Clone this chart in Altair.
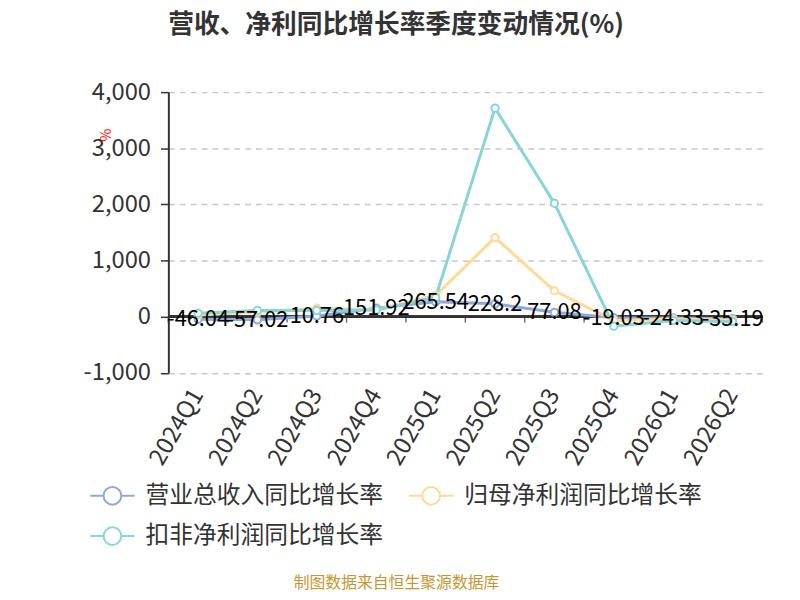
import altair as alt
import pandas as pd

quarters = ["2024Q1", "2024Q2", "2024Q3", "2024Q4", "2025Q1",
            "2025Q2", "2025Q3", "2025Q4", "2026Q1", "2026Q2"]
series_names = ["营业总收入同比增长率", "归母净利润同比增长率", "扣非净利润同比增长率"]
series_colors = ["#8eaadc", "#fed998", "#89d4d9"]
revenue = [-46.04, -57.02, 10.76, 151.92, 265.54, 228.2, 77.08, -19.03, -24.33, -35.19]
net_profit = [30, 80, 150, 120, 380, 1408, 460, -70, -40, -60]
deducted_profit = [60, 110, 110, 120, 340, 3715, 2020, -170, -70, -90]

rows = []
for name, vals in zip(series_names, [revenue, net_profit, deducted_profit]):
    for q, v in zip(quarters, vals):
        rows.append({"quarter": q, "value": v, "series": name, "order": series_names.index(name)})
df = pd.DataFrame(rows)
labels_df = pd.DataFrame({"quarter": quarters, "value": revenue,
                          "label": [f"{v:g}" for v in revenue], "zero": [0] * len(quarters)})
last_df = labels_df.tail(1)

W, H = 600, 283.5
FONT = "Noto Sans CJK SC"

xscale = alt.Scale(type="band", paddingInner=0, paddingOuter=0, domain=quarters)
yscale = alt.Scale(domain=[-1000, 4000], nice=False)

x_axis = alt.Axis(
    orient="bottom", domain=False, ticks=False, grid=False,
    labelAngle=-60, labelAlign="right", labelBaseline="middle",
    labelFontSize=24, labelColor="#333333", labelFont=FONT, labelPadding=18,
    title="制图数据来自恒生聚源数据库", titleColor="#c8962e", titleFontSize=16,
    titleFont=FONT, titleFontWeight="normal", titleX=230, titleY=212,
    titleAlign="center", titleBaseline="middle", titleAnchor="middle",
)
y_axis = alt.Axis(
    values=[-1000, 0, 1000, 2000, 3000, 4000],
    labelExpr="replace(format(datum.value, ',.0f'), '\u2212', '-')",
    labelFontSize=24, labelColor="#333333", labelFont=FONT, labelPadding=10,
    domain=True, domainColor="#333333", domainWidth=2,
    ticks=True, tickColor="#333333", tickSize=8, tickWidth=1.5,
    grid=True, gridColor="#c8c8c8", gridDash=[6, 5], gridWidth=1.5,
    title="%", titleColor="#ff0000", titleFontSize=14, titleFont=FONT,
    titleFontWeight="normal", titleAngle=270, titleX=-62, titleY=43,
    titleAlign="center", titleBaseline="middle",
)

color = alt.Color(
    "series:N",
    scale=alt.Scale(domain=series_names, range=series_colors),
    legend=alt.Legend(
        orient="none", legendX=-80, legendY=384, direction="horizontal",
        columns=2, columnPadding=22, rowPadding=4, title=None,
        labelFontSize=24, labelColor="#333333", labelFont=FONT, labelLimit=400,
        symbolType="M-1,0L-0.4,0M0.4,0L1,0M0.4,0A0.4,0.4,0,1,1,-0.4,0A0.4,0.4,0,1,1,0.4,0",
        symbolSize=2000, symbolStrokeWidth=2, symbolFillColor="white",
        labelOffset=10,
    ),
)

X = lambda **kw: alt.X("quarter:N", scale=xscale, sort=quarters, **kw)
Y = lambda f="value:Q", **kw: alt.Y(f, scale=yscale, **kw)

base = alt.Chart(df)
lines = base.mark_line(strokeWidth=3).encode(
    x=X(axis=x_axis, bandPosition=0.5),
    y=Y(axis=y_axis),
    color=color,
    order=alt.Order("order:Q"),
    detail="series:N",
)
zero_rule = alt.Chart(labels_df).mark_rule(color="#333333", strokeWidth=2).encode(
    y=Y("zero:Q"),
)
ticks = alt.Chart(labels_df).mark_tick(
    orient="vertical", color="#333333", size=6, thickness=1.5, yOffset=3
).encode(x=X(bandPosition=0), y=Y("zero:Q"))
last_tick = alt.Chart(last_df).mark_tick(
    orient="vertical", color="#333333", size=6, thickness=1.5, yOffset=3
).encode(x=X(bandPosition=1), y=Y("zero:Q"))
points = base.mark_point(filled=True, fill="white", size=55, strokeWidth=2, opacity=1).encode(
    x=X(bandPosition=0.5),
    y=Y(),
    stroke=alt.Stroke("series:N", scale=alt.Scale(domain=series_names, range=series_colors), legend=None),
    order=alt.Order("order:Q"),
)
texts = alt.Chart(labels_df).mark_text(
    fontSize=22, font=FONT, color="#000000", baseline="middle", align="center"
).encode(
    x=X(bandPosition=0.5),
    y=Y(),
    text="label:N",
)

chart = alt.layer(
    zero_rule, ticks, last_tick, lines, points, texts
).properties(
    width=W, height=H,
    autosize=alt.AutoSizeParams(type="none"),
    padding={"left": 162, "top": 82, "right": 30, "bottom": 220},
    title=alt.TitleParams(
        "营收、净利同比增长率季度变动情况(%)", fontSize=26, font=FONT,
        fontWeight="bold", color="#333333", anchor="middle", dx=-70, offset=43,
    ),
).configure_view(stroke=None)

chart.save("out.html", embed_options={"renderer": "svg", "actions": False})
